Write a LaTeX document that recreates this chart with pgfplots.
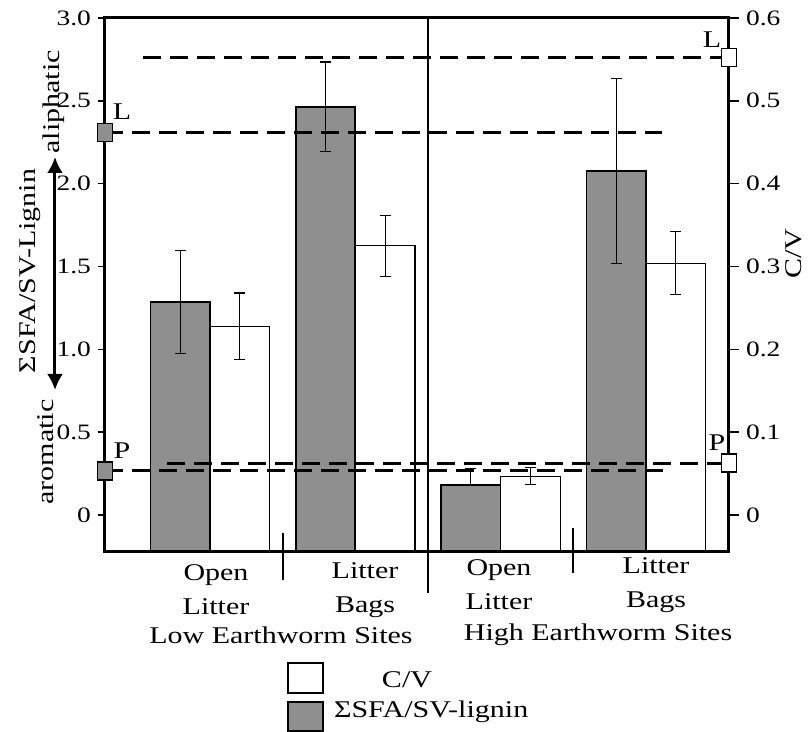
\documentclass[border=0pt]{standalone}
\usepackage{fontspec}
\setmainfont{Liberation Serif}[FakeStretch=1.25]
\usepackage{pgfplots}
\pgfplotsset{compat=1.18}
\usetikzlibrary{arrows.meta}
\definecolor{barg}{RGB}{143,143,143}
\begin{document}
\begin{tikzpicture}[font=\fontsize{12}{17}\selectfont]
\useasboundingbox (-52.5pt,-90pt) rectangle (352pt,276pt);
\pgfplotsset{
  base/.style={at={(0,0)}, anchor=south west, scale only axis, width=312pt, height=267pt,
    xmin=0.2773, xmax=4.571, xtick=\empty, clip=false,
    /pgf/number format/assume math mode=true,
    tick label style={font=\fontsize{11}{13}\selectfont}},
  lefts/.style={ymin=0, ymax=3.223, y filter/.expression={y+0.223}},
  rights/.style={ymin=0, ymax=0.6446, y filter/.expression={y+0.0446}},
  dashline/.style={sharp plot, no marks, black, line width=1.5pt, dash pattern=on 9pt off 4.5pt},
}
% gray bars (left scale)
\begin{axis}[base, lefts, hide axis]
\addplot[ybar, bar width=0.41, bar shift=-0.205, fill=barg, draw=black, line width=0.9pt,
  error bars/.cd, y dir=both, y explicit,
  error bar style={line width=0.6pt, black, xshift=-14.9pt},
  error mark options={rotate=90, mark size=2.8pt, line width=0.6pt}]
  coordinates {(1,1.286) +- (0,0.31) (2,2.464) +- (0,0.27) (3,0.181) += (0,0.10) -= (0,0) (4,2.077) +- (0,0.56)};
\end{axis}
% white bars (right scale)
\begin{axis}[base, rights, axis y line*=right, axis x line=none,
  ytick={0.0446,0.1446,0.2446,0.3446,0.4446,0.5446,0.6446},
  yticklabels={0,0.1,0.2,0.3,0.4,0.5,0.6},
  tick align=outside, major tick length=5pt,
  y axis line style={line width=1.5pt}, every tick/.style={black, line width=0.8pt}]
\addplot[ybar, bar width=0.41, bar shift=0.205, fill=white, draw=black, line width=0.6pt,
  error bars/.cd, y dir=both, y explicit,
  error bar style={line width=0.6pt, black, xshift=14.9pt},
  error mark options={rotate=90, mark size=2.8pt, line width=0.6pt}]
  coordinates {(1,0.228) +- (0,0.040) (2,0.325) +- (0,0.037) (3,0.047) +- (0,0.010) (4,0.304) +- (0,0.038)};
\addplot[dashline] coordinates {(0.539,0.552) (4.571,0.552)};
\addplot[dashline] coordinates {(0.704,0.0628) (4.571,0.0628)};
\end{axis}
% frame, left scale
\begin{axis}[base, lefts, axis line style={line width=1.5pt},
  ytick={0.223,0.723,1.223,1.723,2.223,2.723,3.223},
  yticklabels={0,0.5,1.0,1.5,2.0,2.5,3.0}, ytick pos=left,
  tick align=outside, major tick length=3.5pt, every tick/.style={black, line width=0.8pt}]
\addplot[dashline] coordinates {(0.2773,2.307) (4.111,2.307)};
\addplot[dashline] coordinates {(0.2773,0.266) (4.145,0.266)};
\addplot[only marks, mark=square*, mark size=4.5pt, mark options={fill=barg, draw=black, xscale=0.8, line width=0.6pt}]
  coordinates {(0.2773,2.307) (0.2773,0.266)};
\addplot[sharp plot, no marks, black, line width=0.6pt] coordinates {(2.5,3.0) (2.5,-0.471)};
\addplot[sharp plot, no marks, black, line width=0.6pt] coordinates {(1.502,-0.109) (1.502,-0.393)};
\addplot[sharp plot, no marks, black, line width=0.6pt] coordinates {(3.498,-0.0785) (3.498,-0.350)};
\end{axis}
% white markers, right scale
\begin{axis}[base, rights, hide axis]
\addplot[only marks, mark=square*, mark size=4.5pt, mark options={fill=white, draw=black, xscale=0.8, line width=0.6pt}]
  coordinates {(4.571,0.552) (4.571,0.0628)};
\end{axis}
% labels
\node[rotate=90] at (-37.5pt,140.5pt) {ΣSFA/SV-Lignin};
\draw[{Latex[length=8pt,width=8pt]}-{Latex[length=8pt,width=8pt]}, line width=1.5pt] (-25pt,197.5pt) -- (-25pt,81pt);
\node[rotate=90] at (-25.5pt,225pt) {aliphatic};
\node[rotate=90] at (-29.5pt,50pt) {aromatic};
\node[rotate=90] at (344.5pt,149pt) {C/V};
\node at (8.5pt,220pt) {L};
\node at (8.5pt,50.5pt) {P};
\node at (303.5pt,256pt) {L};
\node at (306pt,54.5pt) {P};
\node[align=center] at (55.5pt,-19pt) {Open\\Litter};
\node[align=center] at (130pt,-19pt) {Litter\\Bags};
\node[align=center] at (197pt,-16.5pt) {Open\\Litter};
\node[align=center] at (275.5pt,-16.5pt) {Litter\\Bags};
\node at (88pt,-41.5pt) {Low Earthworm Sites};
\node at (246.5pt,-41.5pt) {High Earthworm Sites};
\draw[fill=white, line width=0.8pt] (91.5pt,-55.5pt) rectangle (109pt,-70.5pt);
\draw[fill=barg, line width=0.8pt] (91.5pt,-75pt) rectangle (109pt,-89.6pt);
\node at (151pt,-64pt) {C/V};
\node[anchor=west] at (111pt,-80pt) {ΣSFA/SV-lignin};
\end{tikzpicture}
\end{document}
